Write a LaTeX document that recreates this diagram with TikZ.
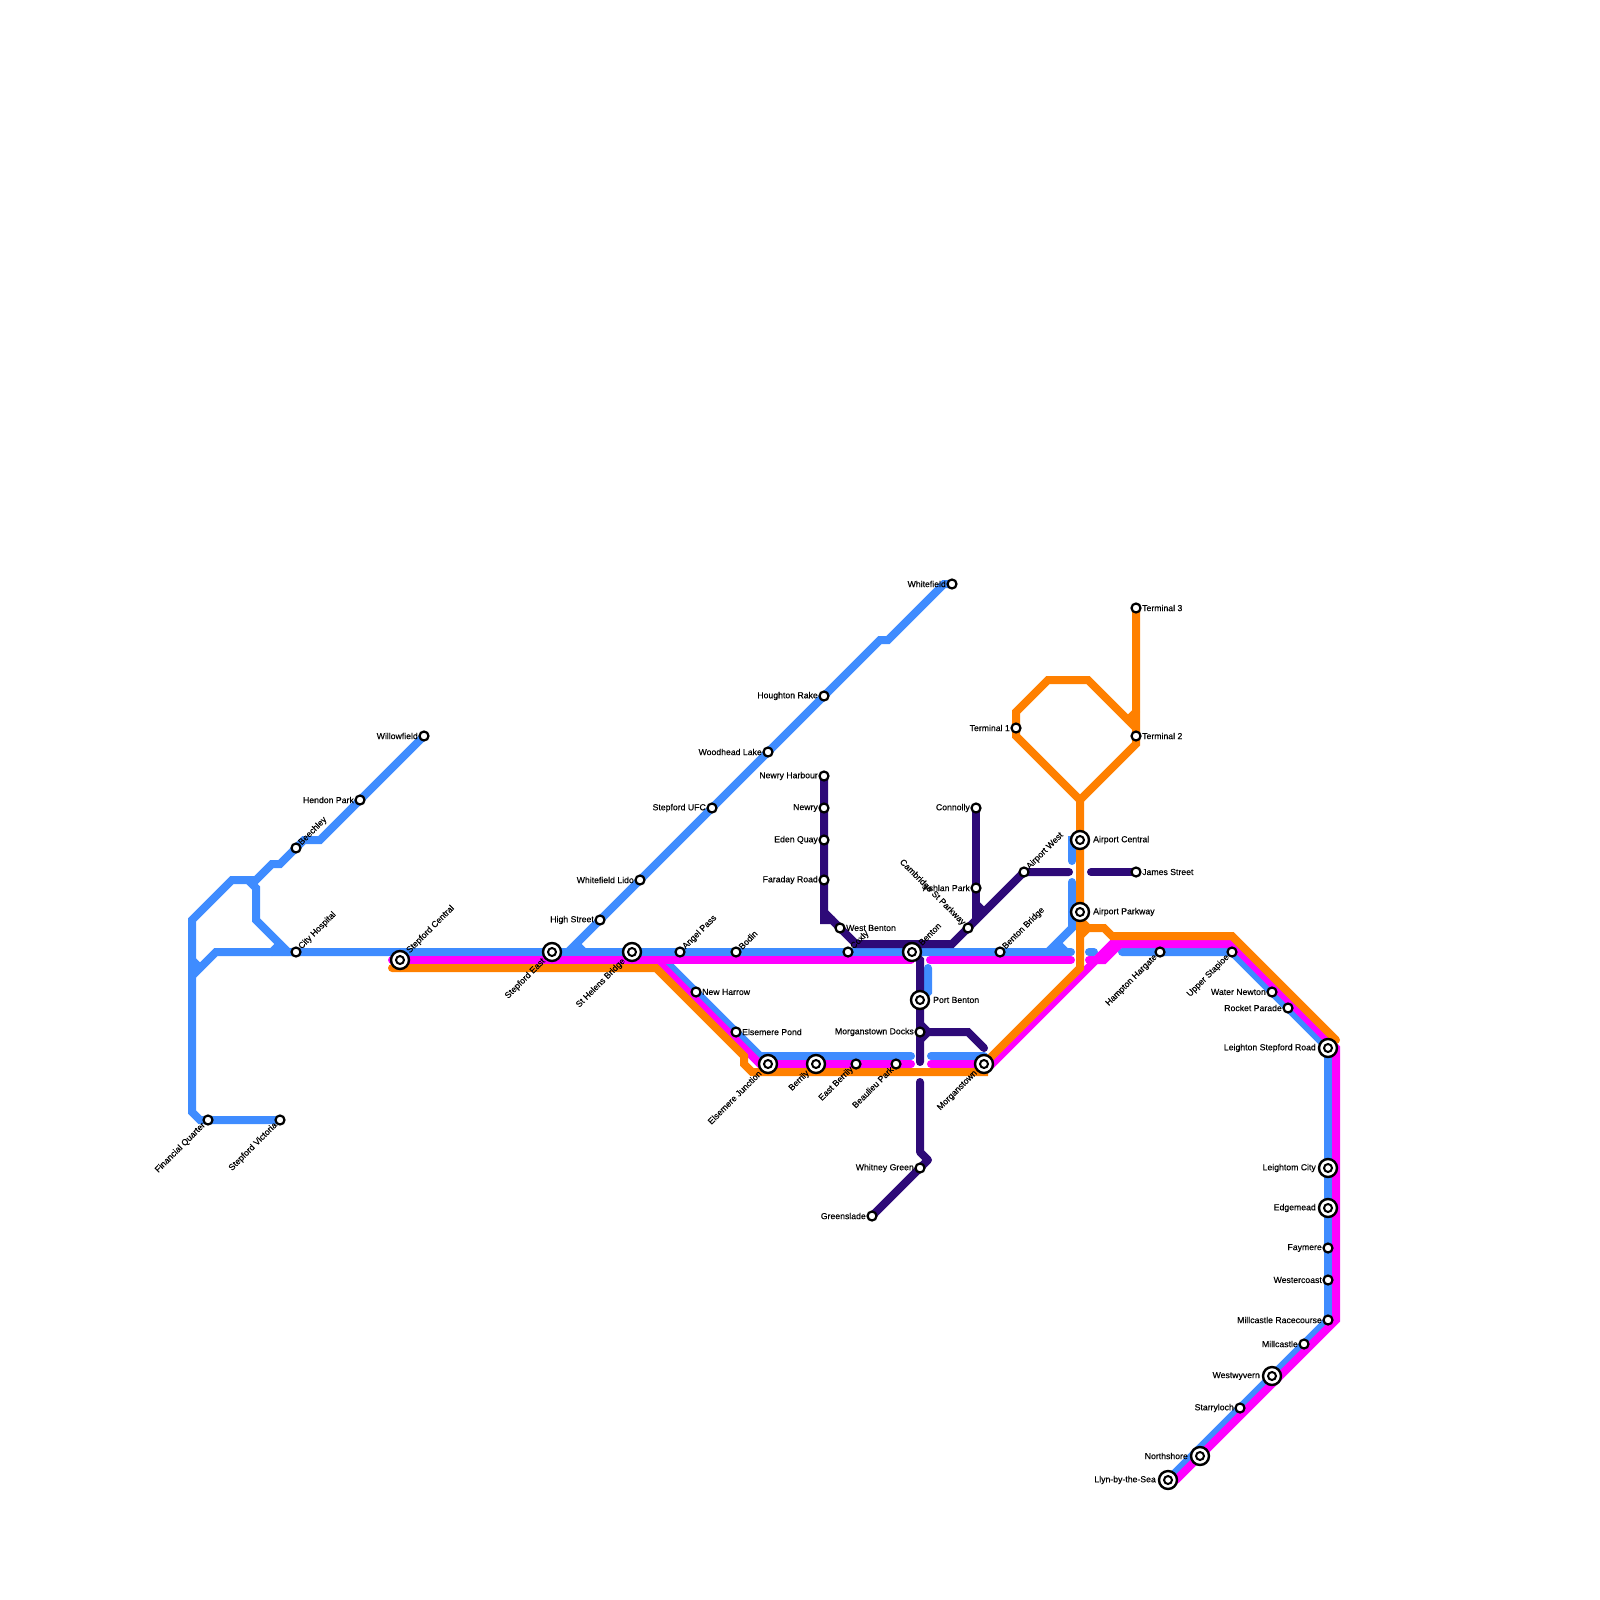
\documentclass[tikz,border=0pt]{standalone}
\usepackage{fontspec}
\setmainfont{Liberation Sans}
\newfontfamily\stationfont[FakeBold=0.3]{Liberation Sans}
\usetikzlibrary{backgrounds}

\definecolor{lineblue}{HTML}{3F8CFF}
\definecolor{linemagenta}{HTML}{FF00FF}
\definecolor{lineorange}{HTML}{FF8000}
\definecolor{linepurple}{HTML}{2E0A78}

\begin{document}
\begin{tikzpicture}[x=1pt, y=-1pt,
    route/.style={line width=8pt, line cap=round, line join=miter},
    stop/.style={circle, draw=black, fill=white, line width=2.2pt, minimum size=9pt, inner sep=0pt},
    hub/.style={circle, draw=black, fill=white, line width=2.4pt, minimum size=18pt, inner sep=0pt,
      path picture={\draw[line width=2pt] (path picture bounding box.center) circle (4pt);}},
    lab/.style={font=\stationfont\fontsize{8.7}{10}\selectfont, inner sep=0pt, text=black},
    labe/.style={lab, anchor=west, xshift=6pt},
    labw/.style={lab, anchor=east, xshift=-6pt},
    hube/.style={lab, anchor=west, xshift=13pt},
    hubw/.style={lab, anchor=east, xshift=-12pt},
    labne/.style={lab, xshift=4pt, yshift=4pt, rotate=45, anchor=west},
    labsw/.style={lab, xshift=-4pt, yshift=-4pt, rotate=45, anchor=east},
    hubne/.style={lab, xshift=8pt, yshift=8pt, rotate=45, anchor=west},
    hubsw/.style={lab, xshift=-8pt, yshift=-8pt, rotate=45, anchor=east},
    labnw/.style={lab, xshift=-4pt, yshift=4pt, rotate=-45, anchor=east}]
  \useasboundingbox (0,0) rectangle (1600,1600);

  % stations, west to east
  \node[stop] (willowfield) at (424,736) {};
  \node[labw] (willowfieldt) at (willowfield) {Willowfield};
  \node[stop] (hendon) at (360,800) {};
  \node[labw] (hendont) at (hendon) {Hendon Park};
  \node[stop] (beechley) at (296,848) {};
  \node[labne] (beechleyt) at (beechley) {Beechley};
  \node[stop] (cityhospital) at (296,952) {};
  \node[labne] (cityhospitalt) at (cityhospital) {City Hospital};
  \node[stop] (financial) at (208,1120) {};
  \node[labsw] (financialt) at (financial) {Financial Quarter};
  \node[stop] (victoria) at (280,1120) {};
  \node[labsw] (victoriat) at (victoria) {Stepford Victoria};
  \node[hub] (central) at (400,960) {};
  \node[hubne] (centralt) at (central) {Stepford Central};
  \node[hub] (east) at (552,952) {};
  \node[hubsw] (eastt) at (east) {Stepford East};
  \node[hub] (sthelens) at (632,952) {};
  \node[hubsw] (sthelenst) at (sthelens) {St Helens Bridge};
  \node[stop] (highstreet) at (600,920) {};
  \node[labw] (highstreett) at (highstreet) {High Street};
  \node[stop] (lido) at (640,880) {};
  \node[labw] (lidot) at (lido) {Whitefield Lido};
  \node[stop] (ufc) at (712,808) {};
  \node[labw] (ufct) at (ufc) {Stepford UFC};
  \node[stop] (woodhead) at (768,752) {};
  \node[labw] (woodheadt) at (woodhead) {Woodhead Lake};
  \node[stop] (houghton) at (824,696) {};
  \node[labw] (houghtont) at (houghton) {Houghton Rake};
  \node[stop] (whitefield) at (952,584) {};
  \node[labw] (whitefieldt) at (whitefield) {Whitefield};
  \node[stop] (angel) at (680,952) {};
  \node[labne] (angelt) at (angel) {Angel Pass};
  \node[stop] (bodin) at (736,952) {};
  \node[labne] (bodint) at (bodin) {Bodin};
  \node[stop] (harrow) at (696,992) {};
  \node[labe] (harrowt) at (harrow) {New Harrow};
  \node[stop] (pond) at (736,1032) {};
  \node[labe] (pondt) at (pond) {Elsemere Pond};
  \node[hub] (elsemere) at (768,1064) {};
  \node[hubsw] (elsemeret) at (elsemere) {Elsemere Junction};
  \node[hub] (berrily) at (816,1064) {};
  \node[hubsw] (berrilyt) at (berrily) {Berrily};
  \node[stop] (eastberrily) at (856,1064) {};
  \node[labsw] (eastberrilyt) at (eastberrily) {East Berrily};
  \node[stop] (beaulieu) at (896,1064) {};
  \node[labsw] (beaulieut) at (beaulieu) {Beaulieu Park};
  \node[hub] (morganstown) at (984,1064) {};
  \node[hubsw] (morganstownt) at (morganstown) {Morganstown};
  \node[stop] (newryharbour) at (824,776) {};
  \node[labw] (newryharbourt) at (newryharbour) {Newry Harbour};
  \node[stop] (newry) at (824,808) {};
  \node[labw] (newryt) at (newry) {Newry};
  \node[stop] (eden) at (824,840) {};
  \node[labw] (edent) at (eden) {Eden Quay};
  \node[stop] (faraday) at (824,880) {};
  \node[labw] (faradayt) at (faraday) {Faraday Road};
  \node[stop] (westbenton) at (840,928) {};
  \node[labe] (westbentont) at (westbenton) {West Benton};
  \node[stop] (coxly) at (848,952) {};
  \node[labne] (coxlyt) at (coxly) {Coxly};
  \node[hub] (benton) at (912,952) {};
  \node[hubne] (bentont) at (benton) {Benton};
  \node[hub] (portbenton) at (920,1000) {};
  \node[hube] (portbentont) at (portbenton) {Port Benton};
  \node[stop] (docks) at (920,1032) {};
  \node[labw] (dockst) at (docks) {Morganstown Docks};
  \node[stop] (whitney) at (920,1168) {};
  \node[labw] (whitneyt) at (whitney) {Whitney Green};
  \node[stop] (greenslade) at (872,1216) {};
  \node[labw] (greensladet) at (greenslade) {Greenslade};
  \node[stop] (connolly) at (976,808) {};
  \node[labw] (connollyt) at (connolly) {Connolly};
  \node[stop] (ashlan) at (976,888) {};
  \node[labw] (ashlant) at (ashlan) {Ashlan Park};
  \node[stop] (cambridge) at (968,928) {};
  \node[labnw] (cambridget) at (cambridge) {Cambridge St Parkway};
  \node[stop] (airportwest) at (1024,872) {};
  \node[labne] (airportwestt) at (airportwest) {Airport West};
  \node[stop] (bentonbridge) at (1000,952) {};
  \node[labne] (bentonbridget) at (bentonbridge) {Benton Bridge};
  \node[hub] (airportcentral) at (1080,840) {};
  \node[hube] (airportcentralt) at (airportcentral) {Airport Central};
  \node[hub] (airportparkway) at (1080,912) {};
  \node[hube] (airportparkwayt) at (airportparkway) {Airport Parkway};
  \node[stop] (james) at (1136,872) {};
  \node[labe] (jamest) at (james) {James Street};
  \node[stop] (terminala) at (1016,728) {};
  \node[labw] (terminalat) at (terminala) {Terminal 1};
  \node[stop] (terminalb) at (1136,736) {};
  \node[labe] (terminalbt) at (terminalb) {Terminal 2};
  \node[stop] (terminalc) at (1136,608) {};
  \node[labe] (terminalct) at (terminalc) {Terminal 3};
  \node[stop] (hampton) at (1160,952) {};
  \node[labsw] (hamptont) at (hampton) {Hampton Hargate};
  \node[stop] (stapioe) at (1232,952) {};
  \node[labsw] (stapioet) at (stapioe) {Upper Stapioe};
  \node[stop] (newton) at (1272,992) {};
  \node[labw] (newtont) at (newton) {Water Newton};
  \node[stop] (rocket) at (1288,1008) {};
  \node[labw] (rockett) at (rocket) {Rocket Parade};
  \node[hub] (leighton) at (1328,1048) {};
  \node[hubw] (leightont) at (leighton) {Leighton Stepford Road};
  \node[hub] (leightom) at (1328,1168) {};
  \node[hubw] (leightomt) at (leightom) {Leightom City};
  \node[hub] (edgemead) at (1328,1208) {};
  \node[hubw] (edgemeadt) at (edgemead) {Edgemead};
  \node[stop] (faymere) at (1328,1248) {};
  \node[labw] (faymeret) at (faymere) {Faymere};
  \node[stop] (westercoast) at (1328,1280) {};
  \node[labw] (westercoastt) at (westercoast) {Westercoast};
  \node[stop] (racecourse) at (1328,1320) {};
  \node[labw] (racecourset) at (racecourse) {Millcastle Racecourse};
  \node[stop] (millcastle) at (1304,1344) {};
  \node[labw] (millcastlet) at (millcastle) {Millcastle};
  \node[hub] (westwyvern) at (1272,1376) {};
  \node[hubw] (westwyvernt) at (westwyvern) {Westwyvern};
  \node[stop] (starryloch) at (1240,1408) {};
  \node[labw] (starrylocht) at (starryloch) {Starryloch};
  \node[hub] (northshore) at (1200,1456) {};
  \node[hubw] (northshoret) at (northshore) {Northshore};
  \node[hub] (llyn) at (1168,1480) {};
  \node[hubw] (llynt) at (llyn) {Llyn-by-the-Sea};

  \begin{scope}[on background layer]
    % blue
    \draw[route, lineblue] (willowfield.center) -- (hendon.center) -- (320,840) -- (304,840) -- (beechley.center)
      -- (280,864) -- (272,864) -- (256,880) -- (232,880) -- (192,920) -- (192,1112) -- (200,1120)
      -- (financial.center) -- (victoria.center);
    \draw[route, lineblue] (248,880) -- (256,888) -- (256,920) -- (288,952);
    \draw[route, lineblue] (280,944) -- (272,952);
    \draw[route, lineblue] (192,960) -- (200,968);
    \draw[route, lineblue] (192,976) -- (216,952) -- (cityhospital.center) -- (east.center) -- (sthelens.center)
      -- (angel.center) -- (bodin.center) -- (coxly.center) -- (benton.center) -- (bentonbridge.center) -- (1071,952);
    \draw[route, lineblue] (1089,952) -- (1094,952);
    \draw[route, lineblue] (1122,952) -- (hampton.center) -- (stapioe.center) -- (newton.center) -- (rocket.center)
      -- (leighton.center) -- (leightom.center) -- (edgemead.center) -- (faymere.center) -- (westercoast.center)
      -- (racecourse.center) -- (millcastle.center) -- (westwyvern.center) -- (starryloch.center) -- (llyn.center);
    \draw[route, lineblue] (whitefield.center) -- (944,584) -- (888,640) -- (880,640) -- (houghton.center)
      -- (woodhead.center) -- (ufc.center) -- (lido.center) -- (highstreet.center) -- (568,952);
    \draw[route, lineblue] (576,944) -- (584,952);
    \draw[route, lineblue] (656,952) -- (harrow.center) -- (pond.center) -- (760,1056) -- (911,1056);
    \draw[route, lineblue] (931,1056) -- (984,1056);
    \draw[route, lineblue] (928,968) -- (928,992) -- (portbenton.center);
    \draw[route, lineblue] (airportcentral.center) -- (1072,840) -- (1072,861);
    \draw[route, lineblue] (1048,952) -- (1072,928) -- (1072,882);
    \draw[route, lineblue] (1058,944) -- (1066,952);
    % magenta
    \draw[route, linemagenta] (392,960) -- (central.center) -- (911,960);
    \draw[route, linemagenta] (656,960) -- (760,1064) -- (elsemere.center) -- (berrily.center) -- (eastberrily.center)
      -- (beaulieu.center) -- (911,1064);
    \draw[route, linemagenta] (930,960) -- (1071,960);
    \draw[route, linemagenta] (931,1064) -- (992,1064) -- (1112,944) -- (1232,944)
      -- (1336,1048) -- (1336,1320) -- (northshore.center) -- (1176,1480);
    \draw[route, linemagenta] (1089,960) -- (1104,960) -- (1120,944);
    % purple
    \draw[route, linepurple] (newryharbour.center) -- (newry.center) -- (eden.center) -- (faraday.center)
      -- (824,920) -- (832,920) -- (westbenton.center) -- (856,944) -- (952,944) -- (cambridge.center)
      -- (airportwest.center) -- (1069,872);
    \draw[route, linepurple] (824,912) -- (832,920);
    \draw[route, linepurple] (1091,872) -- (james.center);
    \draw[route, linepurple] (connolly.center) -- (ashlan.center) -- (976,920);
    \draw[route, linepurple] (976,904) -- (984,912);
    \draw[route, linepurple] (benton.center) -- (920,960) -- (portbenton.center) -- (docks.center) -- (920,1062);
    \draw[route, linepurple] (920,1024) -- (928,1032) -- (968,1032) -- (984,1048);
    \draw[route, linepurple] (920,1040) -- (928,1032);
    \draw[route, linepurple, line join=round] (920,1082) -- (920,1152) -- (928,1160) -- (whitney.center) -- (greenslade.center);
    % orange
    \draw[route, lineorange] (392,968) -- (656,968) -- (744,1056) -- (744,1064) -- (752,1072) -- (984,1072)
      -- (984,1064) -- (1080,968) -- (airportparkway.center) -- (airportcentral.center) -- (1080,800);
    \draw[route, lineorange] (1080,936) -- (1088,928) -- (1104,928) -- (1112,936) -- (1232,936) -- (1336,1040);
    \draw[route, lineorange] (1080,920) -- (1088,928);
    \draw[route, lineorange] (terminalc.center) -- (terminalb.center) -- (1136,744) -- (1080,800) -- (1016,736)
      -- (terminala.center) -- (1016,712) -- (1048,680) -- (1088,680) -- (1136,728);
    \draw[route, lineorange] (1128,720) -- (1136,712);
  \end{scope}
\end{tikzpicture}
\end{document}
